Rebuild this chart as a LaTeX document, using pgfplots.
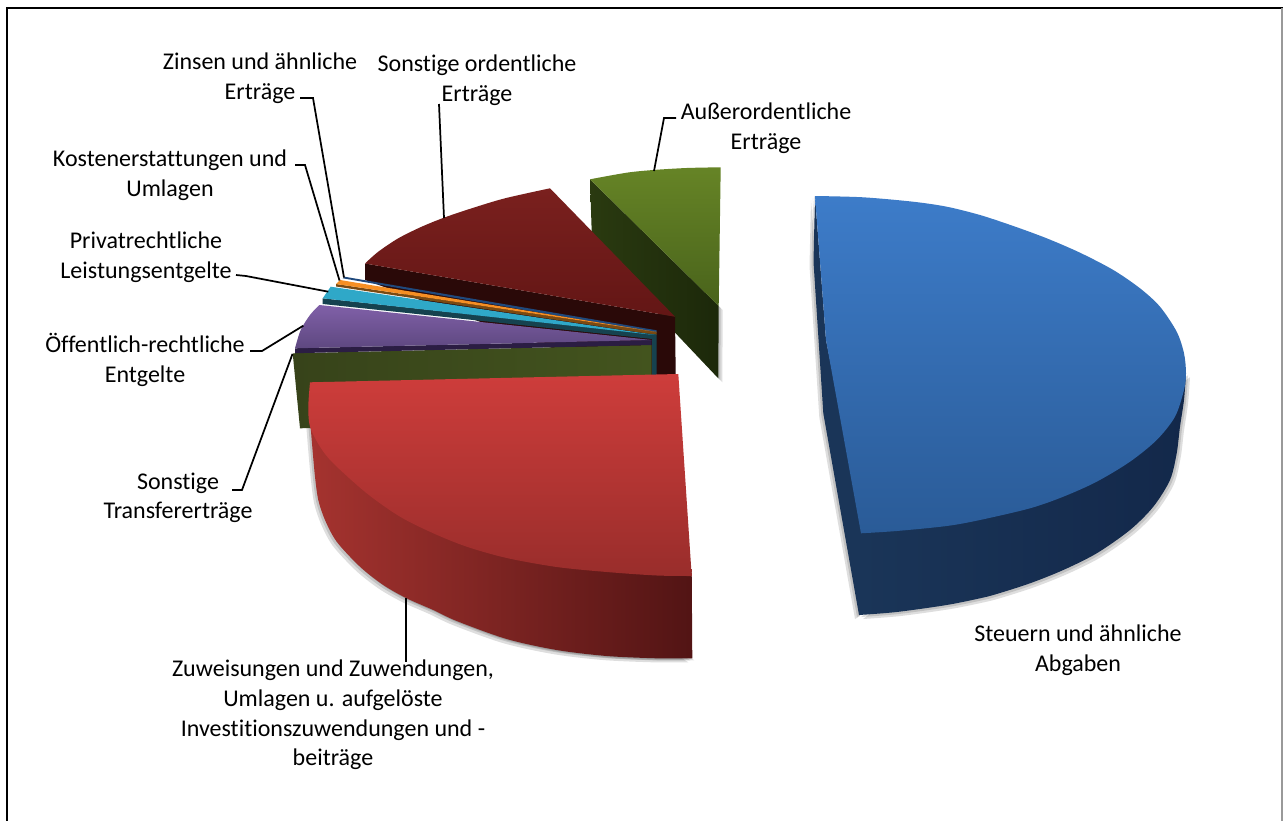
\documentclass[border=0pt]{standalone}
\usepackage{pgfplots}
\pgfplotsset{compat=1.18}
\usepackage{pgfplotstable}
\usepackage{fontspec}
\setmainfont[Ligatures=NoCommon]{Carlito}
\definecolor{bluetopA}{HTML}{3D7CC9}
\definecolor{bluetopB}{HTML}{2A5B97}
\definecolor{bluesideB}{HTML}{13284A}
\definecolor{bluesideA}{HTML}{1A3558}
\definecolor{redtopA}{HTML}{CE3D3B}
\definecolor{redtopB}{HTML}{992D2B}
\definecolor{redsideA}{HTML}{A5332F}
\definecolor{redsideB}{HTML}{521414}
\definecolor{greentopA}{HTML}{668426}
\definecolor{greentopB}{HTML}{49631B}
\definecolor{greensideA}{HTML}{2A3A10}
\definecolor{greensideB}{HTML}{1C280A}
\definecolor{maroonA}{HTML}{7A201E}
\definecolor{maroonB}{HTML}{631615}
\definecolor{maroonside}{HTML}{2A0908}
\definecolor{purpleA}{HTML}{8060A8}
\definecolor{purpleB}{HTML}{5E4880}
\definecolor{purpleside}{HTML}{2B1D43}
\definecolor{oliveA}{HTML}{37431A}
\definecolor{oliveB}{HTML}{43541E}
\definecolor{cyantop}{HTML}{2FA8C8}
\definecolor{tealside}{HTML}{16424F}
\definecolor{orangetop}{HTML}{F58F24}
\definecolor{brownside}{HTML}{7A4A12}
\definecolor{navyline}{HTML}{1F497D}
\pgfplotstableread{
x y
815 196
863 197.3
913 201.7
946.7 206.7
980 215
1013.3 226
1046.7 238.3
1080 252.7
1113.3 270
1140 288.3
1160 306.7
1176.7 331.7
1184 353.3
1186 373.3
1184 390
1175 416.7
1156.7 440
1130 461.7
1096.7 481.7
1063.3 496.7
1030 508.3
980 520
946.7 526
896.7 531
861 533.3
}\bluetop
\pgfplotstableread{
x y
1186 373.3
1184 400
1180 426.7
1176.7 453.3
1170 480
1153.3 506.7
1130 530
1096.7 553.3
1063.3 570
1030 583.3
996.7 594
980 598.3
946.7 605
896.7 612
859 615
}\blueside
\pgfplotstableread{
x y
815 196
813.5 262
823.3 413.3
859 615
864 612
864 530
826 340
}\blueleft
\pgfplotstableread{
x y
310 382.3
308.3 406.7
310 426.7
320 446.7
333.3 463.3
366.7 493.3
400 516.7
433.3 533.3
466.7 546.7
506.7 558
556.7 567
606.7 572
656.7 575.5
691.7 576
}\redtop
\pgfplotstableread{
x y
309.5 412
311.7 440
315 476.7
318.3 500
325 520
336.7 541.7
360 566.7
383.3 585
406.7 598.3
433.3 610
456.7 621
506.7 639
556.7 650
606.7 656
656.7 658.3
692.3 658.3
}\redside
\pgfplotstableread{
x y
590 179.3
718.7 306
718.3 378.3
675.7 333.3
591.7 231.7
}\greenside
\pgfplotstableread{
x y
590 179.3
626.7 172.7
653.3 170
686.7 168
720.7 167.3
}\greentop
\pgfplotstableread{
x y
365 263.5
378.3 251.7
398.3 238.3
421.7 226.7
445 217.3
471.7 208.3
505 198.3
550 188.3
}\maroontop
\pgfplotstableread{
x y
319.3 305
310 315
300.7 330
295 348.3
}\purpletop
\begin{document}
\begin{tikzpicture}
\begin{axis}[
  scale only axis, width=962.25pt, height=615.75pt,
  xmin=0, xmax=1283, ymin=0, ymax=821, y dir=reverse,
  hide axis, clip=true, no markers,
]
% page ground
\addplot[fill=white, draw=none] coordinates {(0,0) (1283,0) (1283,821) (0,821)};
% shadows
\foreach \o in {2,4} {
\addplot[smooth, fill=black, fill opacity=0.13, draw=none] table[x expr=\thisrow{x}+\o, y expr=\thisrow{y}+\o] {\blueside};
\addplot[fill=black, fill opacity=0.13, draw=none] table[x expr=\thisrow{x}-\o, y expr=\thisrow{y}+\o] {\blueleft};
\addplot[smooth, fill=black, fill opacity=0.13, draw=none] table[x expr=\thisrow{x}-\o, y expr=\thisrow{y}+\o] {\redside};
\addplot[smooth, fill=black, fill opacity=0.10, draw=none] table[x expr=\thisrow{x}+\o/2, y expr=\thisrow{y}+\o/2] {\redside};
\addplot[fill=black, fill opacity=0.13, draw=none] table[x expr=\thisrow{x}+\o, y expr=\thisrow{y}+\o] {\greenside};
}
% Ausserordentliche Ertraege
\addplot[draw=none, left color=greensideA, right color=greensideB] table {\greenside};
\addplot[smooth, draw=none, top color=greentopA, bottom color=greentopB] table {\greentop} -- (axis cs:718.7,306) -- cycle;
% Sonstige ordentliche Ertraege
\addplot[fill=maroonside, draw=none] coordinates {(365,263.5) (675,316.7) (675.7,374) (640,380) (365,280)};
\addplot[smooth, draw=none, top color=maroonA, bottom color=maroonB] table {\maroontop} -- (axis cs:675,316.7) -- cycle;
% Zinsen
\addplot[fill=navyline, draw=none] coordinates {(342.7,278.3) (345,276.8) (656.7,330.3) (656.7,333)};
% Kostenerstattungen
\addplot[fill=brownside, draw=none] coordinates {(336,284) (336,286.5) (656.7,335) (656.7,332)};
\addplot[fill=orangetop, draw=none] coordinates {(336,284) (340,280) (656.7,332)};
% Privatrechtliche
\addplot[fill=tealside, draw=none] coordinates {(322.7,298.3) (322.7,304) (652,339) (652,376) (656.7,376) (656.7,334.5)};
\addplot[fill=cyantop, draw=none] coordinates {(322.7,298.3) (330.7,286.7) (655,335)};
% Sonstige Transferertraege (cut face)
\addplot[draw=none, left color=oliveA, right color=oliveB] coordinates {(292.7,353.3) (651.7,345) (651.7,376.7) (313,428) (300,428.3)};
% Oeffentlich-rechtliche
\addplot[fill=purpleside, draw=none] coordinates {(295,348.3) (295,353.2) (651.7,345) (651.7,340)};
\addplot[smooth, draw=none, top color=purpleA, bottom color=purpleB] table {\purpletop} -- (axis cs:651.7,340) -- cycle;
% Zuweisungen
\addplot[smooth, draw=none, left color=redsideA, right color=redsideB] table {\redside} -- (axis cs:691.7,570) -- (axis cs:330,440) -- cycle;
\addplot[smooth, draw=none, top color=redtopA, bottom color=redtopB] table {\redtop} -- (axis cs:678.3,374) -- cycle;
% Steuern
\addplot[fill=bluesideA, draw=none] table {\blueleft};
\addplot[smooth, draw=none, left color=bluesideA, right color=bluesideB] table {\blueside} -- (axis cs:861,530) -- cycle;
\addplot[smooth, draw=none, top color=bluetopA, bottom color=bluetopB] table {\bluetop} -- (axis cs:826,340) -- cycle;
% leader lines
\addplot[black, line width=1.3pt] coordinates {(300,98) (313,98) (344,277.5)};
\addplot[black, line width=1.3pt] coordinates {(295,165) (305,165) (339.5,280.5)};
\addplot[black, line width=1.3pt] coordinates {(236,275) (246,276) (328.3,291.7)};
\addplot[black, line width=1.3pt] coordinates {(250,351) (262,351) (303.3,325.7)};
\addplot[black, line width=1.3pt] coordinates {(232,490) (242,490) (292.5,354)};
\addplot[black, line width=1.3pt] coordinates {(439,104) (444,218)};
\addplot[black, line width=1.3pt] coordinates {(676,118) (664,118) (654,171)};
\addplot[black, line width=1.3pt] coordinates {(406,598) (406,662)};
% frame
\addplot[black, line width=1.5pt] coordinates {(7,830) (7,8) (1290,8)};
\addplot[black!40, line width=1.2pt] coordinates {(1282,8) (1282,830)};
% labels
\tikzset{lab/.style={align=center, inner sep=0pt, font=\fontsize{18}{22.2}\selectfont, text=black}}
\node[lab] at (axis cs:260,78) {Zinsen und ähnliche\\Erträge};
\node[lab] at (axis cs:477,80) {Sonstige ordentliche\\Erträge};
\node[lab] at (axis cs:766,128) {Außerordentliche\\Erträge};
\node[lab] at (axis cs:170,175) {Kostenerstattungen und\\Umlagen};
\node[lab] at (axis cs:146,257) {Privatrechtliche\\Leistungsentgelte};
\node[lab] at (axis cs:145,360) {Öffentlich-rechtliche\\Entgelte};
\node[lab] at (axis cs:178,498) {Sonstige\\Transfererträge};
\node[lab] at (axis cs:333,715) {Zuweisungen und Zuwendungen,\\Umlagen u. aufgelöste\\Investitionszuwendungen und -\\beiträge};
\node[lab] at (axis cs:1078,650) {Steuern und ähnliche\\Abgaben};
\end{axis}
\end{tikzpicture}
\end{document}
